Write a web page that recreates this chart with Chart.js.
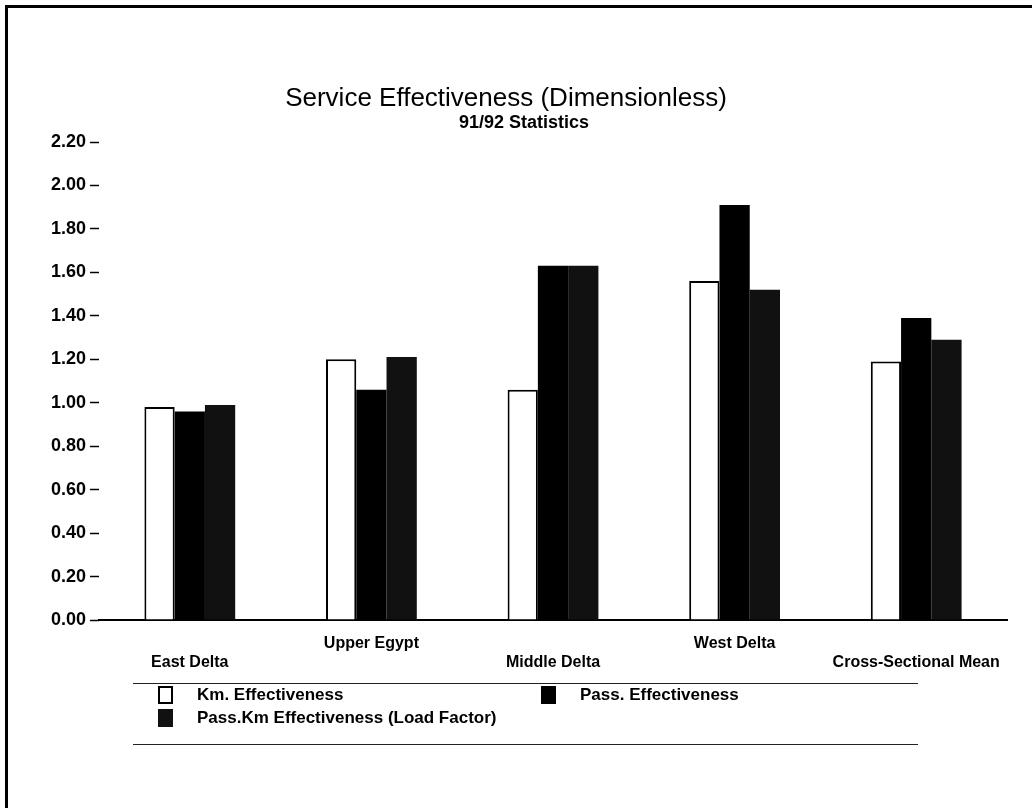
<!DOCTYPE html>
<html>
<head>
<meta charset="utf-8">
<script src="https://cdn.jsdelivr.net/npm/chart.js@4/dist/chart.umd.min.js"></script>
<style>
    html, body { margin: 0; padding: 0; background: #fff; }
    body { width: 1032px; height: 808px; position: relative; overflow: hidden;
           font-family: "Liberation Sans", Arial, sans-serif; color: #000; }
    #frame { position: absolute; left: 5px; top: 5px; width: 1040px; height: 820px;
             border-left: 3px solid #000; border-top: 3px solid #000; }
    #chart { position: absolute; left: 0; top: 0; }
    .title { position: absolute; width: 1032px; text-align: center; }
    #title { top: 82px; left: -10px; font-size: 26px; }
    #subtitle { top: 112px; left: 8px; font-size: 18px; font-weight: bold; }
    .rule { position: absolute; left: 133px; width: 785px; border-top: 1.5px solid #222; }
    .item { position: absolute; font-size: 17px; font-weight: bold; line-height: 20px; white-space: nowrap; }
    .item i { position: absolute; left: -39px; top: 1px; width: 15px; height: 18px; box-sizing: border-box; }
</style>
</head>
<body>
<div id="frame"></div>
<canvas id="chart" width="1032" height="808"></canvas>
<div class="title" id="title">Service Effectiveness (Dimensionless)</div>
<div class="title" id="subtitle">91/92 Statistics</div>
<div id="legend"></div>
<script>
    // values
    var categories = ['East Delta', 'Upper Egypt', 'Middle Delta', 'West Delta', 'Cross-Sectional Mean'];
    var kmEffectiveness = [0.98, 1.20, 1.06, 1.56, 1.19];
    var passEffectiveness = [0.96, 1.06, 1.63, 1.91, 1.39];
    var passKmEffectiveness = [0.99, 1.21, 1.63, 1.52, 1.29];
    var seriesNames = ['Km. Effectiveness', 'Pass. Effectiveness', 'Pass.Km Effectiveness (Load Factor)'];
    var yTicks = [0, 0.2, 0.4, 0.6, 0.8, 1.0, 1.2, 1.4, 1.6, 1.8, 2.0, 2.2];

    // labels alternate between an upper and a lower row under the axis
    var labelRows = categories.map(function (name, i) {
        return i % 2 === 0 ? ['', name] : [name, ''];
    });

    var font = "'Liberation Sans', Arial, sans-serif";

    var ctx = document.getElementById('chart');
    var chart = new Chart(ctx, {
        type: 'bar',
        data: {
            labels: labelRows,
            datasets: [
                {label: seriesNames[0], data: kmEffectiveness, backgroundColor: '#ffffff',
                    borderColor: '#000', borderWidth: 2},
                {label: seriesNames[1], data: passEffectiveness, backgroundColor: '#000000',
                    borderColor: '#000', borderWidth: 0},
                {label: seriesNames[2], data: passKmEffectiveness, backgroundColor: '#111111',
                    borderColor: '#000', borderWidth: 0}
            ]
        },
        options: {
            responsive: false,
            animation: false,
            devicePixelRatio: 1,
            layout: {padding: {left: 0, top: 142, right: 25, bottom: 0}},
            plugins: {legend: {display: false}, title: {display: false}, tooltip: {enabled: false}},
            datasets: {bar: {categoryPercentage: 0.5, barPercentage: 1.0}},
            scales: {
                x: {
                    grid: {display: false, drawTicks: false},
                    border: {display: true, color: '#000', width: 2},
                    ticks: {
                        autoSkip: false, maxRotation: 0, minRotation: 0, padding: 14, color: '#000',
                        font: {family: font, size: 16, weight: 'bold', lineHeight: '19px'}
                    },
                    afterFit: function (scale) { scale.height = 188; }
                },
                y: {
                    min: 0, max: 2.2,
                    grid: {drawOnChartArea: false, drawTicks: true, tickLength: 9, tickColor: '#000', tickWidth: 1.5},
                    border: {display: false},
                    afterBuildTicks: function (scale) {
                        scale.ticks = yTicks.map(function (v) { return {value: v}; });
                    },
                    ticks: {
                        padding: 4, color: '#000',
                        font: {family: font, size: 18, weight: 'bold'},
                        callback: function (v) { return Number(v).toFixed(2); }
                    },
                    afterFit: function (scale) { scale.width = 99; }
                }
            }
        }
    });

    // legend box with rules above and below, built from the datasets
    var legend = document.getElementById('legend');
    var spots = [[197, 685], [580, 685], [197, 708]];
    chart.data.datasets.forEach(function (ds, i) {
        var el = document.createElement('div');
        el.className = 'item';
        el.style.left = spots[i][0] + 'px';
        el.style.top = spots[i][1] + 'px';
        var box = document.createElement('i');
        box.style.background = ds.backgroundColor;
        if (ds.borderWidth) box.style.border = '2px solid #000';
        el.appendChild(box);
        el.appendChild(document.createTextNode(ds.label));
        legend.appendChild(el);
    });
    [683, 744].forEach(function (y) {
        var r = document.createElement('div');
        r.className = 'rule';
        r.style.top = y + 'px';
        legend.appendChild(r);
    });
</script>
</body>
</html>
